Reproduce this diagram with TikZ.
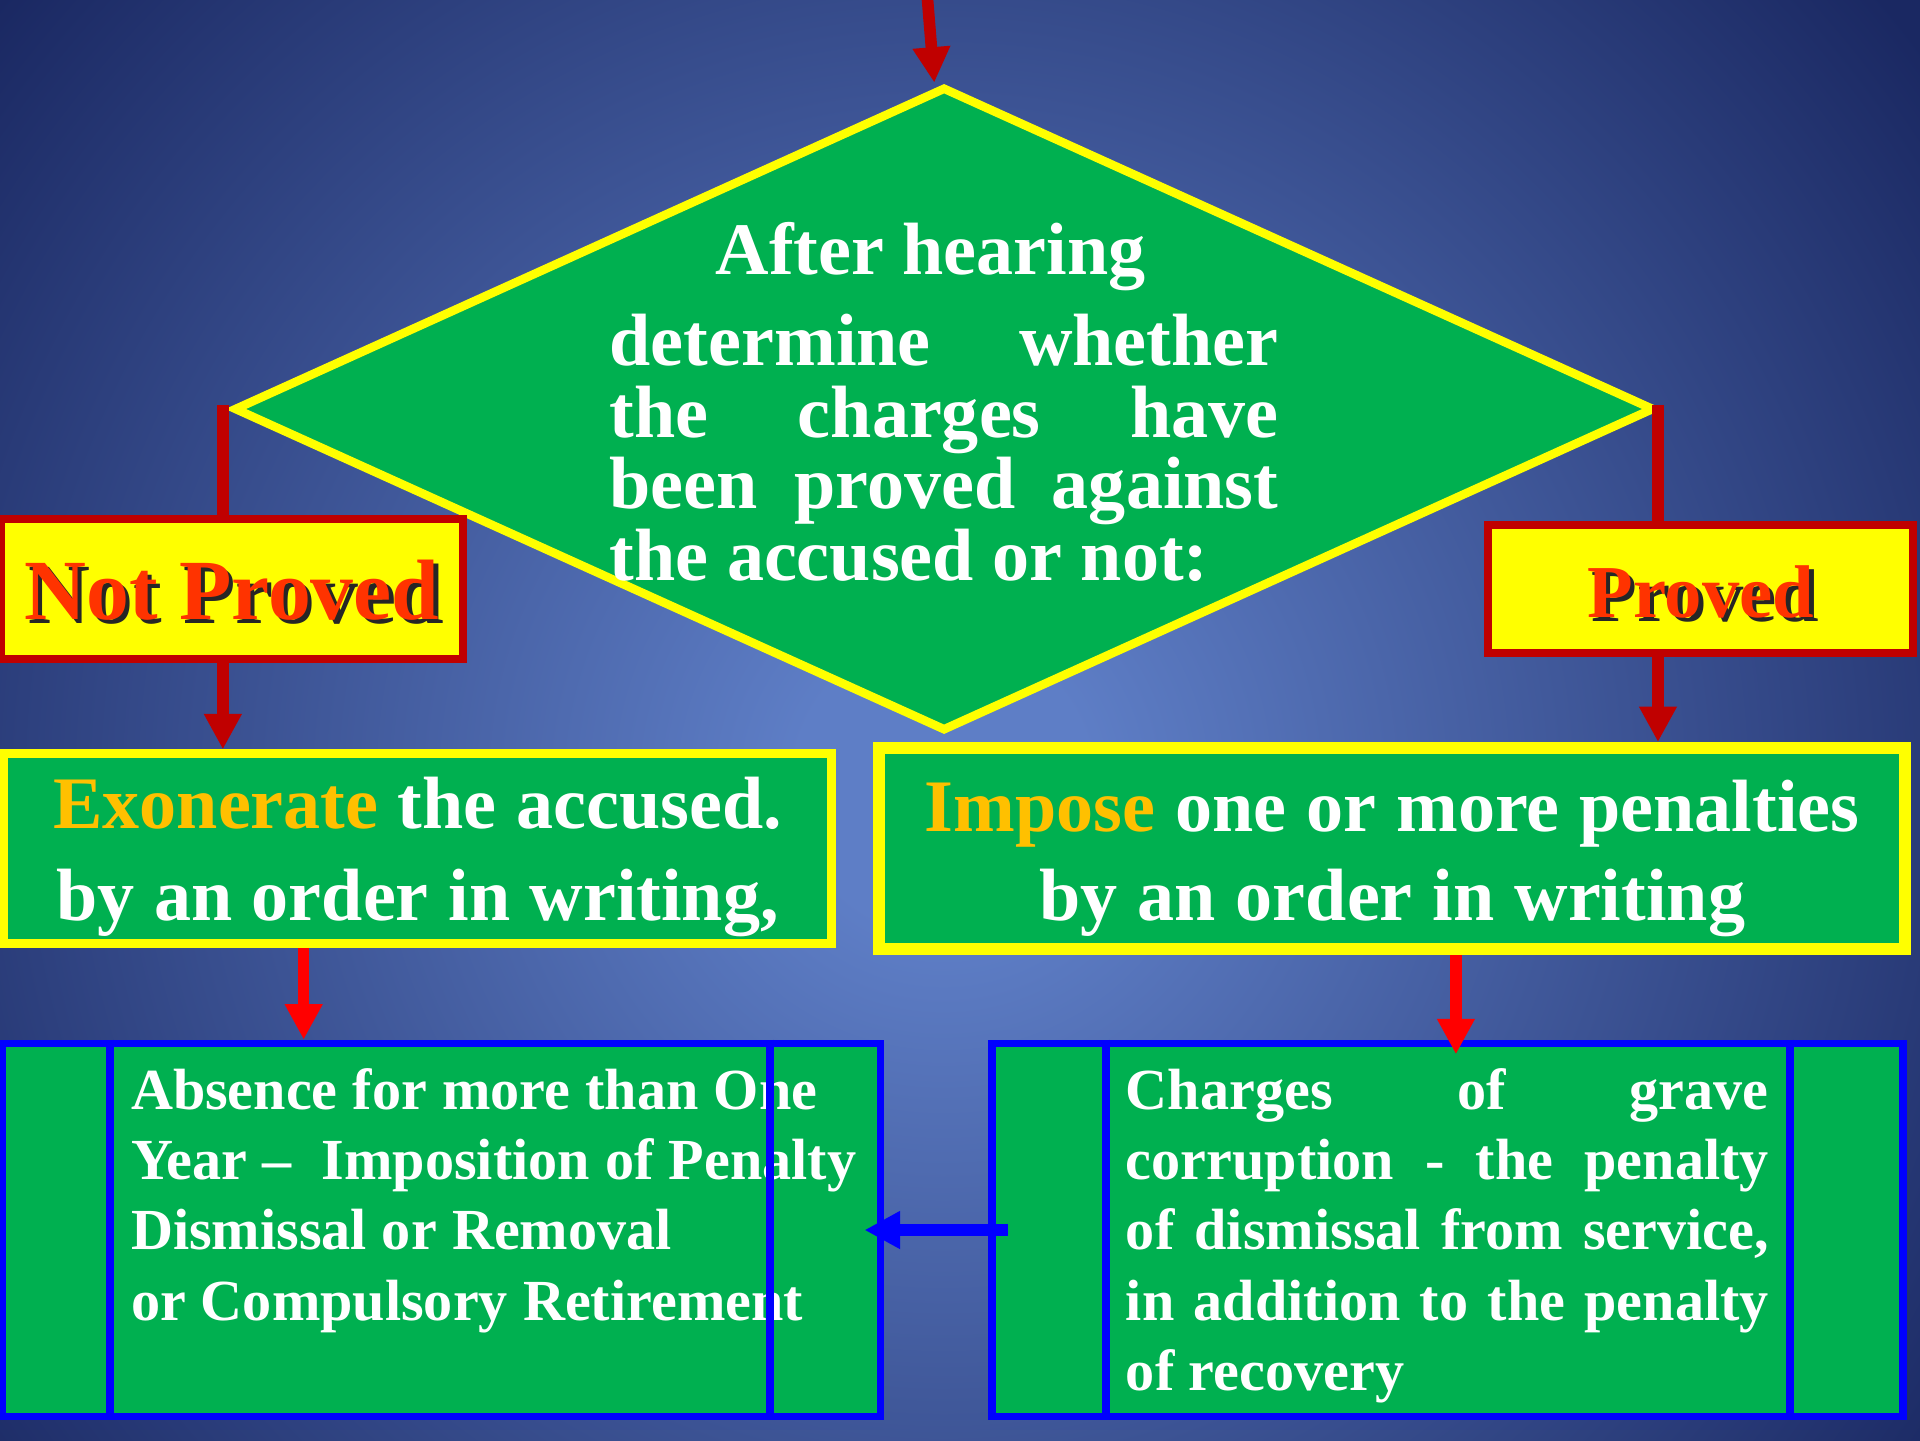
\documentclass[tikz,border=0pt]{standalone}
\usepackage{fontspec}
\setmainfont{Liberation Serif}
\usetikzlibrary{arrows.meta,shapes.geometric,calc}
\definecolor{bgin}{RGB}{94,126,198}
\definecolor{bgout}{RGB}{26,40,98}
\definecolor{pgreen}{RGB}{0,176,80}
\definecolor{pyellow}{RGB}{255,255,0}
\definecolor{dred}{RGB}{192,0,0}
\definecolor{bred}{RGB}{255,0,0}
\definecolor{tred}{RGB}{255,51,0}
\definecolor{pgold}{RGB}{255,192,0}
\definecolor{pblue}{RGB}{0,0,255}
\pgfdeclareradialshading{bgshade}{\pgfpoint{0bp}{0bp}}{color(0bp)=(bgin); color(3bp)=(bgin); color(25bp)=(bgout); color(50bp)=(bgout)}
\newcommand\shadowtxt[1]{\makebox[0pt][l]{\hspace*{3.5pt}\raisebox{-3.5pt}{\color{black!85}#1}}#1}
\begin{document}
\begin{tikzpicture}[x=1pt,y=-1pt,
  every node/.style={font=\bfseries, inner sep=0pt},
  yelbox/.style={rectangle, fill=pyellow, draw=dred, line width=6.5pt},
  grnbox/.style={rectangle, fill=pgreen, draw=pyellow, text=white},
  blubox/.style={rectangle, fill=pgreen, draw=pblue, line width=6pt, text=white},
  tip/.style={-{Triangle[length=29pt,width=29pt]}},
  dline/.style={draw=dred, line width=9.5pt},
  darrow/.style={dline, tip},
  rarrow/.style={draw=bred, line width=9.5pt, tip},
  barrow/.style={draw=pblue, line width=9.5pt, tip},
  innerline/.style={draw=pblue, line width=6.5pt}]
\useasboundingbox (0,0) rectangle (1568,1176);
\begin{scope}
\clip (0,0) rectangle (1568,1176);
\shade[shading=bgshade] (-230,-360) rectangle (1770,1640);
\end{scope}

% decision diamond
\node[diamond, aspect=2.2, fill=pgreen, draw=pyellow, line width=7pt,
      minimum width=1160pt, minimum height=526pt, text width=546pt, align=justify,
      text height=0pt, text depth=219pt, text=white,
      font=\bfseries\fontsize{60.5}{58.4}\selectfont] (dia) at (771,334)
  {\tolerance=10000\hyphenpenalty=10000\parindent=0pt
   \makebox[524pt][c]{After hearing}\par\vspace{15.6pt}
   determine whether\linebreak the charges have\linebreak been proved against\linebreak the accused or not:\par};

% outcome labels
\node[yelbox, minimum width=377pt, minimum height=114pt, text height=50pt, text depth=0pt,
      text=tred, font=\bfseries\fontsize{70}{70}\selectfont] (np) at (189.5,481) {\shadowtxt{Not Proved}};
\node[yelbox, minimum width=347pt, minimum height=105pt, text height=46pt, text depth=0pt,
      text=tred, font=\bfseries\fontsize{61}{61}\selectfont] (pr) at (1389,481) {\shadowtxt{Proved}};

% actions
\node[grnbox, line width=7pt, minimum width=676pt, minimum height=155pt, text width=660pt, align=center,
      text height=20pt, text depth=52pt, font=\bfseries\fontsize{60.5}{75}\selectfont] (ex) at (341,693)
  {\spaceskip=0.264em\textcolor{pgold}{Exonerate} the accused.\\ by an order in writing,};
\node[grnbox, line width=10pt, minimum width=838pt, minimum height=164pt, text width=820pt, align=center,
      text height=20pt, text depth=48pt, font=\bfseries\fontsize{60.5}{73}\selectfont] (im) at (1137,693)
  {\spaceskip=0.27em\textcolor{pgold}{Impose} one or more penalties\\ by an order in writing};

% penalty boxes
\node[blubox, minimum width=717pt, minimum height=305pt, text width=507pt, align=left,
      text height=0pt, text depth=197pt, font=\bfseries\fontsize{47.5}{57.4}\selectfont] (ab) at (360.5,1004.5)
  {\spaceskip=0.26em\mbox{Absence for more than One}\\ \mbox{Year --\ \ Imposition of Penalty}\\ \mbox{Dismissal or Removal}\\ \mbox{or Compulsory Retirement}};
\node[blubox, minimum width=744pt, minimum height=305pt, text width=525pt, align=justify,
      text height=0pt, text depth=197pt, font=\bfseries\fontsize{47.5}{57.4}\selectfont] (ch) at (1182,1004.5)
  {\tolerance=10000\hyphenpenalty=10000\parindent=0pt
   Charges of grave\linebreak corruption - the penalty\linebreak of dismissal from service,\linebreak in addition to the penalty\linebreak of recovery\par};

\draw[innerline] ([xshift=91pt]ab.north west) -- ([xshift=91pt]ab.south west);
\draw[innerline] ([xshift=-93pt]ab.north east) -- ([xshift=-93pt]ab.south east);
\draw[innerline] ([xshift=96pt]ch.north west) -- ([xshift=96pt]ch.south west);
\draw[innerline] ([xshift=-95pt]ch.north east) -- ([xshift=-95pt]ch.south east);

% connectors
\coordinate (tin) at (757,-6);
\draw[darrow] (tin) -- ([xshift=-8pt]dia.north);
\coordinate (lv) at (182,331);
\draw[dline] (lv) -- (lv |- np.north);
\draw[darrow] (lv |- np.south) -- (lv |- ex.north);
\coordinate (rv) at (1354,331);
\draw[dline] (rv) -- (rv |- pr.north);
\draw[darrow] (rv |- pr.south) -- (rv |- im.north);
\coordinate (ea) at (248,0);
\draw[rarrow] (ea |- ex.south) -- (ea |- ab.north);
\coordinate (chin) at (1189,861);
\draw[rarrow] (chin |- im.south) -- (chin);
\draw[barrow] ([xshift=16pt]ch.west) -- ([xshift=-16pt]ab.east);
\end{tikzpicture}
\end{document}
